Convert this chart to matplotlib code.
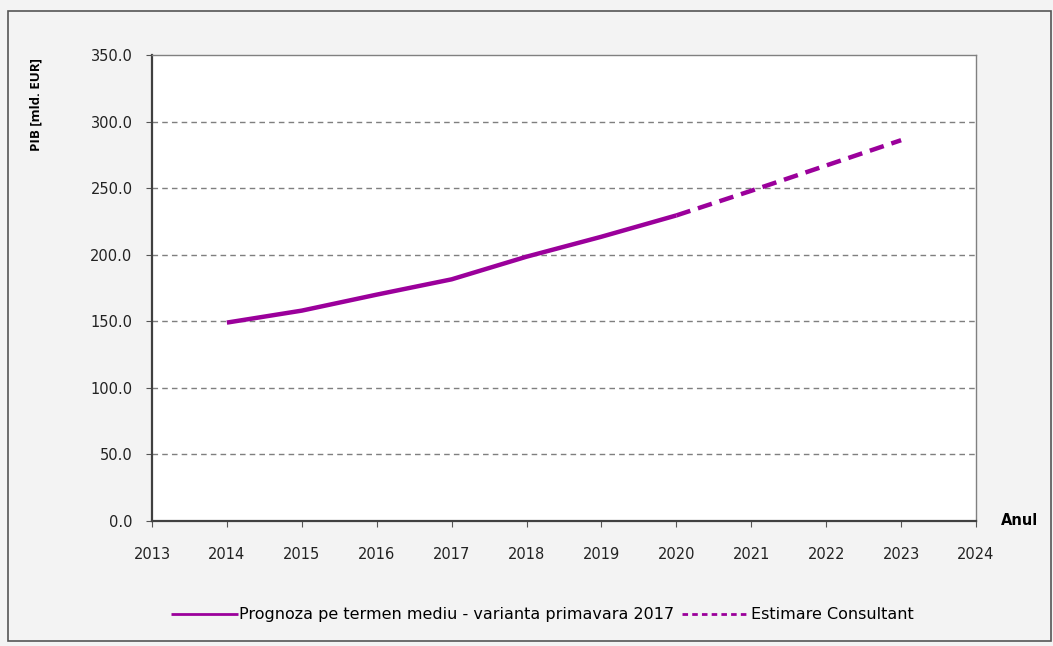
import matplotlib
matplotlib.use("Agg")
import matplotlib.pyplot as plt
from matplotlib.patches import Rectangle

# PIB: prognoza pe termen mediu (2014-2020) si estimarea consultantului (2020-2023)
ani_prognoza = [2014, 2015, 2016, 2017, 2018, 2019, 2020]
pib_prognoza = [149.0, 158.0, 170.0, 181.5, 198.5, 213.5, 229.5]
ani_estimare = [2020, 2021, 2022, 2023]
pib_estimare = [229.5, 248.0, 267.0, 286.0]

x_ticks = list(range(2013, 2025))
y_ticks = [0, 50, 100, 150, 200, 250, 300, 350]

eticheta_prognoza = "Prognoza pe termen mediu - varianta primavara 2017"
eticheta_estimare = "Estimare Consultant"

plt.rcParams["font.family"] = ["DejaVu Sans"]
VIOLET = "#9b009b"

fig = plt.figure(figsize=(10.53, 6.46), dpi=100)
fig.patch.set_facecolor("#f3f3f3")
fig.patches.append(Rectangle((0.008, 0.008), 0.99, 0.975, transform=fig.transFigure,
                             fill=False, edgecolor="#555555", lw=1.2))

ax = fig.add_axes([0.1443, 0.1935, 0.7826, 0.7214])
ax.set_facecolor("white")

for y in y_ticks[1:-1]:
    ax.axhline(y, color="#7f7f7f", lw=1.0, ls=(0, (4, 3)), zorder=1)

ax.plot(ani_prognoza, pib_prognoza, color=VIOLET, lw=3.2, solid_capstyle="butt",
        label=eticheta_prognoza, zorder=3)
ax.plot(ani_estimare, pib_estimare, color=VIOLET, lw=3.2, ls=(0, (3.3, 1.8)),
        label=eticheta_estimare, zorder=3)

ax.set_xlim(2013, 2024)
ax.set_ylim(0, 350)
ax.set_xticks(x_ticks)
ax.set_yticks(y_ticks)
ax.set_yticklabels([f"{v:.1f}" for v in y_ticks])
ax.tick_params(axis="both", labelsize=10.5, labelcolor="#222222", direction="out",
               length=4, color="#555555")
ax.tick_params(axis="x", pad=15)
ax.tick_params(axis="y", pad=10)

for side in ("left", "bottom"):
    ax.spines[side].set_color("#404040")
    ax.spines[side].set_linewidth(1.6)
for side in ("top", "right"):
    ax.spines[side].set_color("#808080")
    ax.spines[side].set_linewidth(1.0)

fig.text(0.034, 0.838, "PIB [mld. EUR]", rotation=90, ha="center", va="center",
         fontsize=9.5, fontweight="bold", family="Open Sans")
fig.text(0.968, 0.195, "Anul", ha="center", va="center", fontsize=10.5, fontweight="bold")

leg = fig.legend(loc="center", bbox_to_anchor=(0.515, 0.048), ncol=2, frameon=False,
                 fontsize=11.5, handlelength=4.2, handletextpad=0.1, columnspacing=0.5)
for h in leg.legend_handles:
    h.set_linewidth(2)
    if h.get_label() == eticheta_estimare:
        h.set_linestyle((0, (2, 1.5)))

fig.savefig("out.png", dpi=100, facecolor=fig.get_facecolor())
